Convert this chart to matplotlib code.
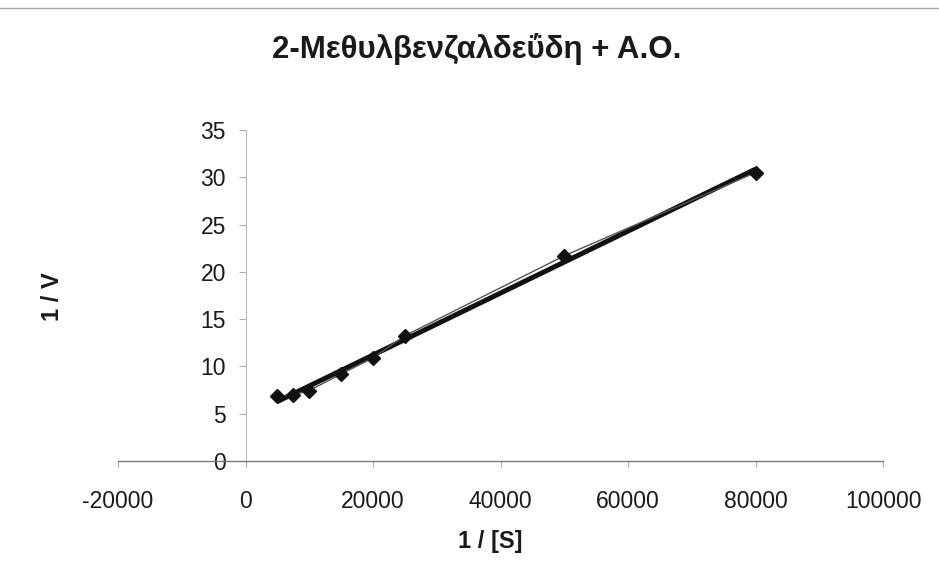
import numpy as np
import matplotlib
matplotlib.use('Agg')
import matplotlib.pyplot as plt

plt.rcParams['font.family'] = ['Liberation Sans', 'DejaVu Sans']
plt.rcParams['axes.unicode_minus'] = False

# Lineweaver-Burk data: 1/[S] vs 1/V
inv_s = [5000, 7500, 10000, 15000, 20000, 25000, 50000, 80000]
inv_v = [6.85, 7.0, 7.45, 9.2, 10.9, 13.25, 21.7, 30.5]

x_ticks = [-20000, 0, 20000, 40000, 60000, 80000, 100000]
y_ticks = [0, 5, 10, 15, 20, 25, 30, 35]

fig = plt.figure(figsize=(9.39, 5.87), dpi=100)
ax = fig.add_axes([0.1257, 0.2147, 0.8147, 0.5638])

# linear trendline over the data range
k, b = np.polyfit(inv_s, inv_v, 1)
xs = np.array([min(inv_s), max(inv_s)])
ax.plot(xs, k * xs + b, color='#111111', lw=3.6, solid_capstyle='butt', zorder=3)

ax.plot(inv_s, inv_v, color='#555555', lw=1.0, marker='D', markersize=7.5,
        markerfacecolor='#111111', markeredgecolor='#111111', zorder=4)

ax.set_xlim(-20000, 100000)
ax.set_ylim(0, 35)
ax.set_xticks(x_ticks)
ax.set_yticks(y_ticks)

ax.spines['top'].set_visible(False)
ax.spines['right'].set_visible(False)
ax.spines['left'].set_position(('data', 0))
ax.spines['left'].set_color('#bbbbbb')
ax.spines['left'].set_linewidth(0.8)
ax.spines['bottom'].set_color('#777777')
ax.spines['bottom'].set_linewidth(1.0)

ax.tick_params(axis='x', direction='out', length=4, width=0.8, color='#aaaaaa',
               labelsize=16.5, pad=17, labelcolor='#1a1a1a')
ax.tick_params(axis='y', direction='out', length=5, width=0.8, color='#aaaaaa',
               labelsize=16.5, pad=9, labelcolor='#1a1a1a')

ax.set_title('2-Μεθυλβενζαλδεΰδη + Α.Ο.', fontsize=22.5, fontweight='bold',
             color='#1a1a1a', x=0.469, pad=52)
fig.text(0.056, 0.494, '1 / V', rotation=90, fontsize=17, fontweight='bold',
         color='#1a1a1a', ha='center', va='center')
fig.text(0.522, 0.077, '1 / [S]', fontsize=17, fontweight='bold',
         color='#1a1a1a', ha='center', va='center')

# faint chart border along the top
fig.add_artist(plt.Line2D([0, 1], [1 - 8 / 587, 1 - 8 / 587],
                          transform=fig.transFigure, color='#aaaaaa', lw=1))

fig.savefig('out.png', dpi=100)
